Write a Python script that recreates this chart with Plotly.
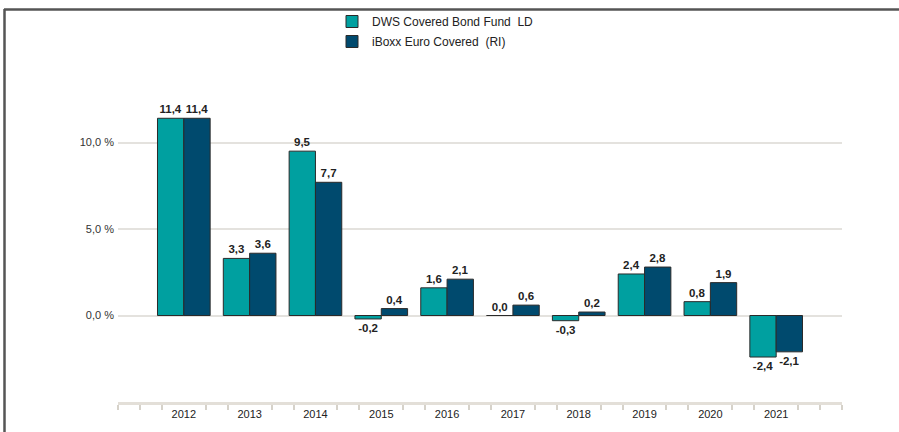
import plotly.graph_objects as go

years = [2012, 2013, 2014, 2015, 2016, 2017, 2018, 2019, 2020, 2021]
fund_name = "DWS Covered Bond Fund\u00a0 LD"
index_name = "iBoxx Euro Covered\u00a0 (RI)"
fund_values = [11.4, 3.3, 9.5, -0.2, 1.6, 0.0, -0.3, 2.4, 0.8, -2.4]
index_values = [11.4, 3.6, 7.7, 0.4, 2.1, 0.6, 0.2, 2.8, 1.9, -2.1]
y_tickvals = [0, 5, 10, 15]
y_ticktext = ["0,0 %", "5,0 %", "10,0 %", ""]

fund_color = "#00a0a0"
index_color = "#004a6e"

def fmt(v):
    return f"{v:.1f}".replace(".", ",")

W, H = 899, 432
L, R, T, B = 118, 57, 56, 30
pw, ph = W - L - R, H - T - B

def px_x(p):
    return (p - L) / pw

def px_y(p):
    return (H - B - p) / ph

fig = go.Figure()
label_font = dict(family="Liberation Sans, Arial, sans-serif", size=11.5, color="#222222")
for i, (name, vals, col) in enumerate([(fund_name, fund_values, fund_color), (index_name, index_values, index_color)]):
    fig.add_trace(go.Bar(
        x=years, y=vals, name=name, legendgroup=f"g{i}",
        marker=dict(color=col, line=dict(color="#2a2a2a", width=1)),
        text=["<b>" + fmt(v) + "</b>" for v in vals],
        textposition="outside", textfont=label_font,
        cliponaxis=False, hoverinfo="skip",
    ))

minor_ticks = [years[0] - 1 + k / 3 for k in range(0, 3 * (len(years) + 1) + 1) if k % 3 != 0]
minor_ticks = [years[0] - 1] + minor_ticks + [years[-1] + 1]

fig.update_layout(
    width=W, height=H,
    margin=dict(l=L, r=R, t=T, b=B, autoexpand=False),
    paper_bgcolor="white", plot_bgcolor="white",
    barmode="group", bargap=0.2, bargroupgap=0,
    font=dict(family="Liberation Sans, Arial, sans-serif", size=11, color="#333333"),
    showlegend=True,
    legend=dict(x=px_x(332), y=px_y(7), xanchor="left", yanchor="top",
                orientation="v", font=dict(size=12, color="#222222"),
                bgcolor="rgba(0,0,0,0)", traceorder="grouped", tracegroupgap=1),
    xaxis=dict(range=[years[0] - 1, years[-1] + 1], tickvals=years,
               ticktext=[str(y) for y in years], ticks="", showgrid=False,
               showline=True, linecolor="#e3dfd8", linewidth=3, zeroline=False,
               tickfont=dict(size=11, color="#222222"),
               minor=dict(tickvals=minor_ticks, ticks="outside", ticklen=5,
                          tickcolor="#d6d2ca", tickwidth=1.5, showgrid=False)),
    yaxis=dict(range=[-5, 15], tickvals=y_tickvals, ticktext=y_ticktext,
               showgrid=True, gridcolor="#e4e2de", gridwidth=1.5,
               zeroline=False, showline=False, ticks="", ticklabelstandoff=3,
               tickfont=dict(size=11, color="#333333")),
    shapes=[
        dict(type="line", xref="paper", yref="paper", x0=px_x(4), x1=px_x(W + 5),
             y0=px_y(9.5), y1=px_y(9.5), line=dict(color="#555555", width=2.5)),
        dict(type="line", xref="paper", yref="paper", x0=px_x(4.5), x1=px_x(4.5),
             y0=px_y(9), y1=px_y(H + 5), line=dict(color="#555555", width=2.5)),
    ],
)

fig.write_html("out.html", config={"displayModeBar": False},
               post_script="document.body.style.margin='0';document.body.style.overflow='hidden';")
